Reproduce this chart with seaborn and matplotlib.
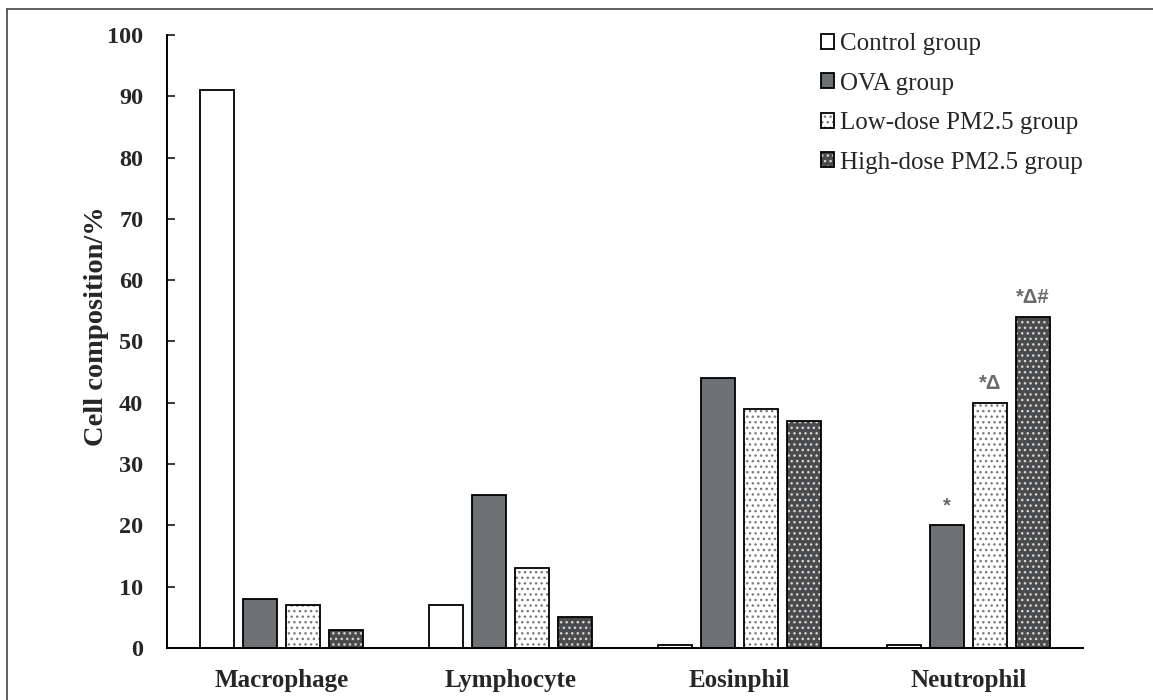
import matplotlib
matplotlib.use("Agg")
import matplotlib.pyplot as plt
from matplotlib.patches import Patch
from matplotlib.lines import Line2D
import seaborn as sns
import pandas as pd

# Cell composition in BALF (%), per cell type and treatment group
cell_types = ["Macrophage", "Lymphocyte", "Eosinphil", "Neutrophil"]
groups = ["Control group", "OVA group", "Low-dose PM2.5 group", "High-dose PM2.5 group"]
control = [91, 7, 0.5, 0.5]
ova = [8, 25, 44, 20]
low_dose = [7, 13, 39, 40]
high_dose = [3, 5, 37, 54]
neutrophil_marks = ["", "*", "*\u0394", "*\u0394#"]

y_ticks = [0, 10, 20, 30, 40, 50, 60, 70, 80, 90, 100]

rows = []
for g, vals in zip(groups, [control, ova, low_dose, high_dose]):
    for c, v in zip(cell_types, vals):
        rows.append({"cell": c, "group": g, "value": v})
df = pd.DataFrame(rows)

fill_colors = {groups[0]: "#ffffff", groups[1]: "#6e7174",
               groups[2]: "#ffffff", groups[3]: "#4a4b4d"}
hatches = {groups[0]: "", groups[1]: "", groups[2]: "...", groups[3]: "..."}
hatch_colors = {groups[0]: "#ffffff", groups[1]: "#6e7174",
                groups[2]: "#7a7a7a", groups[3]: "#d8d8d8"}

sns.set_theme(style="white")
plt.rcParams["font.family"] = ["Liberation Serif", "DejaVu Serif"]
plt.rcParams["hatch.linewidth"] = 1.0

fig = plt.figure(figsize=(11.53, 7.0), dpi=100)
ax = fig.add_axes([0.1448, 0.0743, 0.9393 - 0.1448, 0.95 - 0.0743])

# layer 1: filled bars with dotted texture
sns.barplot(data=df, x="cell", y="value", hue="group", order=cell_types,
            hue_order=groups, palette=fill_colors, width=0.75, gap=0.21,
            linewidth=0, saturation=1, legend=False, ax=ax)
for cont, g in zip(ax.containers, groups):
    for p in cont:
        p.set_hatch(hatches[g])
        p.set_edgecolor(hatch_colors[g])
        p.set_linewidth(0)

# layer 2: black outlines
sns.barplot(data=df, x="cell", y="value", hue="group", order=cell_types,
            hue_order=groups, palette=["black"] * 4, width=0.75, gap=0.21,
            fill=False, linewidth=1.3, saturation=1, legend=False, ax=ax)

ax.set_ylim(0, 100)
ax.set_xlim(-0.5, 3.5)
ax.set_yticks(y_ticks)
ax.set_yticklabels([str(t) for t in y_ticks], fontsize=17.5, fontweight="bold")
ax.set_xticks(range(len(cell_types)))
ax.set_xticklabels(cell_types, fontsize=18, fontweight="bold")
ax.tick_params(axis="y", direction="in", length=6, width=1.3, pad=17, left=True)
ax.tick_params(axis="x", length=0, pad=15)
ax.set_xlabel("")
ax.set_ylabel("Cell composition/%", fontsize=20.5, fontweight="bold", labelpad=3)
ax.yaxis.set_label_coords(-0.063, 0.525)
for s in ["top", "right"]:
    ax.spines[s].set_visible(False)
for s in ["left", "bottom"]:
    ax.spines[s].set_color("black")
    ax.spines[s].set_linewidth(1.4)

# significance marks over the neutrophil bars
n_idx = cell_types.index("Neutrophil")
for cont, mark in zip(ax.containers[:4], neutrophil_marks):
    if not mark:
        continue
    p = cont[n_idx]
    ax.annotate(mark, (p.get_x() + p.get_width() / 2, p.get_height()),
                xytext=(0, 7), textcoords="offset points", ha="center",
                va="bottom", fontsize=14.5, fontweight="bold", color="#6a6a6a",
                family=["Liberation Sans", "DejaVu Sans"])

# legend with overlaid texture + outline swatches
handles = []
for g in groups:
    base = Patch(facecolor=fill_colors[g], edgecolor=hatch_colors[g],
                 hatch=hatches[g], linewidth=0)
    outline = Patch(facecolor="none", edgecolor="black", linewidth=1.3)
    handles.append((base, outline))
ax.legend(handles, groups, loc="upper left", bbox_to_anchor=(0.703, 0.967),
          bbox_transform=fig.transFigure, frameon=False, fontsize=18,
          handlelength=0.52, handleheight=0.52, handletextpad=0.25,
          labelspacing=0.70, borderaxespad=0)

# frame lines along the left and top of the figure
fig.add_artist(Line2D([0.0065, 0.0065], [0, 0.987], transform=fig.transFigure,
                      color="#444444", linewidth=1.2))
fig.add_artist(Line2D([0.0065, 1.0], [0.987, 0.987], transform=fig.transFigure,
                      color="#444444", linewidth=1.2))

fig.savefig("out.png", dpi=100)
